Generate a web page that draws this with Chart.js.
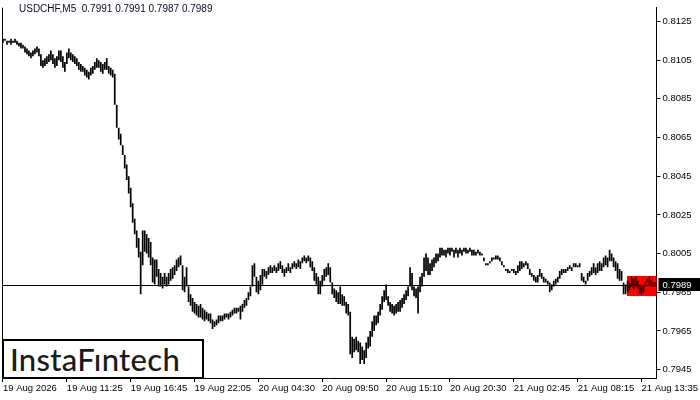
<!DOCTYPE html>
<html><head><meta charset="utf-8">
<script src="https://cdn.jsdelivr.net/npm/chart.js@4.4.1/dist/chart.umd.min.js"></script>
<style>
html,body{margin:0;padding:0;background:#fff;}
#wrap{position:relative;width:700px;height:400px;overflow:hidden;}
#title{position:absolute;left:19px;top:3px;font:10px "Liberation Sans",Arial,sans-serif;color:#0a0a1e;white-space:pre;}
#logo{position:absolute;left:2px;top:339px;width:192px;height:36px;border:2.5px solid #000;background:#fff;font:500 31px Lato,"Open Sans",sans-serif;color:#1a1a1a;line-height:36px;padding-left:6px;box-sizing:content-box;letter-spacing:0.3px;}
</style></head>
<body><div id="wrap"><canvas id="c" width="700" height="400"></canvas>
<div id="title">USDCHF,M5  0.7991 0.7991 0.7987 0.7989</div>
<div id="logo">InstaFıntech</div></div>
<script>
const symbol = "USDCHF,M5";
const highs = [
0.8116,0.8116,0.8115,0.8115,0.8116,0.8115,0.8116,0.8115,0.8114,0.8114,0.8113,0.8112,
0.8111,0.8110,0.8109,0.8110,0.8111,0.8112,0.8111,
0.8108,0.8105,0.8106,0.8107,0.8108,0.8110,0.8108,0.8106,0.8107,0.8110,0.8110,0.8107,0.8104,
0.8109,0.8111,0.8109,0.8108,0.8107,0.8106,0.8104,0.8103,0.8102,0.8101,0.8100,0.8099,0.8101,0.8102,0.8104,0.8106,0.8105,0.8104,0.8103,0.8104,0.8106,0.8102,0.8101,0.8100,
0.8098,0.8082,0.8070,0.8067,0.8061,0.8056,0.8051,0.8045,0.8039,0.8031,0.8023,0.8017,0.8013,0.8006,
0.8017,0.8017,0.8015,0.8013,0.8011,0.8003,0.8002,0.8002,0.7997,0.7995,0.7993,0.7995,0.7993,0.7995,0.7997,0.7998,0.7999,0.8002,0.8003,0.8004,
0.7999,0.7993,0.7998,0.7988,0.7984,0.7982,0.7980,0.7979,0.7978,0.7979,0.7977,0.7976,0.7975,0.7974,0.7974,0.7971,0.7970,0.7971,0.7973,0.7973,0.7973,
0.7974,0.7974,0.7974,0.7975,0.7976,0.7977,0.7977,0.7977,0.7978,0.7979,0.7981,0.7982,0.7985,0.7988,
0.7999,0.8000,0.7993,0.7991,0.7994,0.7997,0.7997,0.7996,0.7998,0.7999,0.7998,0.7999,0.7998,0.8000,0.8001,0.7999,0.7997,0.7998,0.8000,0.7998,0.8000,0.8001,0.8000,0.8002,0.8001,0.8003,0.8004,0.8003,0.8004,
0.8003,0.8001,0.7998,0.7995,0.7993,0.7991,0.7994,0.7997,0.7998,0.8000,0.7998,0.7990,0.7987,0.7986,0.7985,0.7988,0.7984,0.7983,0.7980,0.7979,
0.7975,0.7962,0.7961,0.7962,0.7960,0.7959,0.7957,0.7955,0.7959,0.7962,0.7965,0.7970,0.7973,0.7973,0.7975,0.7979,0.7983,0.7986,0.7989,
0.7983,0.7980,0.7979,0.7978,0.7979,0.7980,0.7981,0.7982,0.7984,0.7986,0.7988,0.7998,0.7995,0.7988,0.7987,0.7988,0.7993,0.7995,
0.8003,0.8005,0.8003,0.8000,0.8002,0.8003,0.8005,0.8005,0.8008,0.8008,0.8007,0.8007,0.8008,0.8008,0.8008,0.8007,0.8008,0.8007,0.8008,0.8007,0.8008,0.8008,0.8007,0.8008,0.8007,0.8007,0.8006,0.8007,0.8006,0.8005,
0.8003,0.8000,0.8000,0.8001,0.8003,0.8003,0.8004,0.8004,0.8003,0.8001,0.7999,0.7997,0.7997,0.7996,0.7997,0.7997,0.7996,0.7999,0.8001,0.8001,0.8000,0.8001,0.8000,
0.7997,0.7995,0.7994,0.7993,0.7994,0.7997,0.7995,0.7993,0.7992,0.7991,0.7990,0.7989,0.7991,0.7992,0.7993,0.7996,0.7997,0.7997,0.7997,0.7998,0.7999,0.7998,0.8000,0.8000,0.7999,0.8000,
0.7995,0.7993,0.7991,0.7995,0.7996,0.7998,0.8000,0.7998,0.8000,0.8001,0.8000,0.8003,0.8004,0.8003,0.8007,0.8005,0.8003,0.8001,0.8000,0.7997,0.7996,
0.7990,0.7989,0.7991,0.7990,0.7993,0.7992,0.7993,0.7991,0.7989,0.7988,0.7989,0.7991,0.7992,0.7993,0.7991,0.7990,0.7990
];
const lows = [
0.8114,0.8115,0.8113,0.8114,0.8113,0.8114,0.8114,0.8113,0.8112,0.8111,0.8111,0.8109,
0.8108,0.8107,0.8106,0.8107,0.8108,0.8109,0.8107,
0.8102,0.8101,0.8102,0.8103,0.8104,0.8105,0.8103,0.8101,0.8102,0.8105,0.8104,0.8101,0.8099,
0.8103,0.8106,0.8105,0.8104,0.8103,0.8102,0.8100,0.8099,0.8099,0.8097,0.8096,0.8095,0.8097,0.8098,0.8100,0.8101,0.8101,0.8099,0.8098,0.8100,0.8100,0.8098,0.8097,0.8096,
0.8082,0.8070,0.8064,0.8061,0.8056,0.8049,0.8043,0.8036,0.8029,0.8021,0.8015,0.8008,0.8003,0.7984,
0.7999,0.8006,0.8005,0.8003,0.7999,0.7990,0.7989,0.7993,0.7988,0.7988,0.7987,0.7989,0.7988,0.7989,0.7991,0.7992,0.7994,0.7996,0.7998,0.7999,
0.7986,0.7985,0.7988,0.7980,0.7978,0.7975,0.7974,0.7973,0.7972,0.7972,0.7971,0.7970,0.7971,0.7970,0.7969,0.7966,0.7967,0.7968,0.7969,0.7970,0.7970,
0.7971,0.7972,0.7971,0.7972,0.7973,0.7974,0.7974,0.7975,0.7971,0.7975,0.7977,0.7978,0.7981,0.7983,
0.7988,0.7993,0.7985,0.7984,0.7986,0.7989,0.7993,0.7992,0.7994,0.7995,0.7995,0.7996,0.7995,0.7996,0.7997,0.7995,0.7993,0.7995,0.7996,0.7995,0.7997,0.7998,0.7997,0.7998,0.7997,0.8000,0.8001,0.8000,0.8001,
0.7998,0.7996,0.7991,0.7989,0.7984,0.7984,0.7988,0.7991,0.7993,0.7994,0.7990,0.7984,0.7982,0.7980,0.7979,0.7979,0.7978,0.7978,0.7974,0.7973,
0.7953,0.7951,0.7954,0.7955,0.7954,0.7948,0.7950,0.7948,0.7951,0.7956,0.7957,0.7962,0.7965,0.7968,0.7969,0.7973,0.7976,0.7980,0.7981,
0.7978,0.7975,0.7974,0.7973,0.7974,0.7975,0.7975,0.7977,0.7979,0.7981,0.7983,0.7988,0.7986,0.7983,0.7982,0.7974,0.7985,0.7988,
0.7993,0.7996,0.7994,0.7994,0.7996,0.7998,0.8000,0.8001,0.8003,0.8004,0.8004,0.8003,0.8005,0.8004,0.8006,0.8003,0.8005,0.8003,0.8005,0.8004,0.8006,0.8005,0.8005,0.8006,0.8004,0.8004,0.8004,0.8005,0.8004,0.8004,
0.8001,0.7999,0.7999,0.8000,0.8001,0.8002,0.8002,0.8002,0.8001,0.7999,0.7998,0.7996,0.7995,0.7995,0.7996,0.7995,0.7994,0.7995,0.7996,0.7997,0.7998,0.7999,0.7997,
0.7994,0.7993,0.7991,0.7990,0.7990,0.7993,0.7992,0.7990,0.7990,0.7989,0.7985,0.7986,0.7988,0.7989,0.7990,0.7992,0.7994,0.7995,0.7995,0.7996,0.7997,0.7996,0.7998,0.7998,0.7998,0.7998,
0.7991,0.7990,0.7989,0.7991,0.7993,0.7994,0.7995,0.7994,0.7995,0.7996,0.7996,0.7998,0.7999,0.7998,0.8001,0.8001,0.7998,0.7996,0.7992,0.7991,0.7991,
0.7984,0.7984,0.7985,0.7986,0.7988,0.7987,0.7988,0.7987,0.7984,0.7984,0.7985,0.7988,0.7990,0.7989,0.7988,0.7988,0.7989
];
const xTickLabels = ["19 Aug 2026","19 Aug 11:25","19 Aug 16:45","19 Aug 22:05","20 Aug 04:30","20 Aug 09:50","20 Aug 15:10","20 Aug 20:30","21 Aug 02:45","21 Aug 08:15","21 Aug 13:35"];
const xTickBars = [0,32,64,96,128,160,192,224,256,288,320];
const yTickLabels = ["0.7945","0.7965","0.7985","0.8005","0.8025","0.8045","0.8065","0.8085","0.8105","0.8125"];
const yMin = 0.79407, yMax = 0.81321;
const lastPrice = 0.7989;
const pattern = {startBar: 313, high: 0.79934, low: 0.79832};

const categories = highs.map((_, i) => i);
const tickFont = {family: '"Liberation Sans", Arial, sans-serif', size: 9.5};

const overlay = {
  id: 'overlay',
  beforeDatasetsDraw(chart) {
    const {ctx, chartArea: a, scales: {x, y}} = chart;
    const x0 = Math.round(x.getPixelForValue(pattern.startBar) - 1);
    const yt = Math.round(y.getPixelForValue(pattern.high));
    const yb = Math.round(y.getPixelForValue(pattern.low));
    ctx.save();
    ctx.fillStyle = '#ff0000';
    ctx.fillRect(x0, yt, a.right - x0, yb - yt);
    ctx.restore();
  },
  afterDatasetsDraw(chart) {
    const {ctx, chartArea: a, scales: {y}} = chart;
    const yp = Math.round(y.getPixelForValue(lastPrice)) + 0.5;
    ctx.save();
    ctx.strokeStyle = '#000'; ctx.lineWidth = 1;
    ctx.beginPath(); ctx.moveTo(a.left, yp); ctx.lineTo(a.right, yp); ctx.stroke();
    ctx.beginPath(); ctx.moveTo(a.left + 0.5, a.top); ctx.lineTo(a.left + 0.5, a.bottom); ctx.stroke();
    ctx.restore();
  },
  afterDraw(chart) {
    const {ctx, chartArea: a, scales: {y}} = chart;
    const yp = Math.round(y.getPixelForValue(lastPrice));
    ctx.save();
    ctx.fillStyle = '#000';
    ctx.fillRect(a.right + 2, yp - 7, 700 - a.right - 2, 13);
    ctx.fillStyle = '#fff';
    ctx.font = '9.5px "Liberation Sans", Arial, sans-serif';
    ctx.textBaseline = 'middle';
    ctx.fillText(lastPrice.toFixed(4), a.right + 6, yp);
    ctx.restore();
  }
};

new Chart(document.getElementById('c'), {
  type: 'bar',
  data: {
    labels: categories,
    datasets: [{
      data: highs.map((h, i) => [lows[i], h]),
      backgroundColor: '#000',
      borderWidth: 0,
      barPercentage: 0.85,
      categoryPercentage: 1
    }]
  },
  options: {
    responsive: false,
    animation: false,
    events: [],
    layout: {padding: {left: 2, top: 0, right: 0, bottom: 0}},
    plugins: {legend: {display: false}, tooltip: {enabled: false}},
    scales: {
      x: {
        type: 'category',
        offset: true,
        grid: {display: true, drawOnChartArea: false, drawTicks: true, tickLength: 4, color: '#000', offset: false},
        border: {display: true, color: '#000', width: 1},
        ticks: {autoSkip: false, maxRotation: 0, minRotation: 0, align: 'start', padding: 1, color: '#000', font: tickFont,
          callback: (v, i) => xTickLabels[i]},
        afterBuildTicks: (s) => { s.ticks = xTickBars.map(b => ({value: b})); },
        afterFit: (s) => { s.height = 22; }
      },
      y: {
        position: 'right',
        min: yMin, max: yMax,
        grid: {display: true, drawOnChartArea: false, drawTicks: true, tickLength: 4, color: '#000'},
        border: {display: true, color: '#000', width: 1},
        ticks: {padding: 2, color: '#000', font: tickFont, callback: (v) => Number(v).toFixed(4)},
        afterBuildTicks: (s) => { s.ticks = yTickLabels.map(t => ({value: parseFloat(t)})); },
        afterFit: (s) => { s.width = 41; }
      }
    }
  },
  plugins: [overlay]
});
</script>
</body></html>
